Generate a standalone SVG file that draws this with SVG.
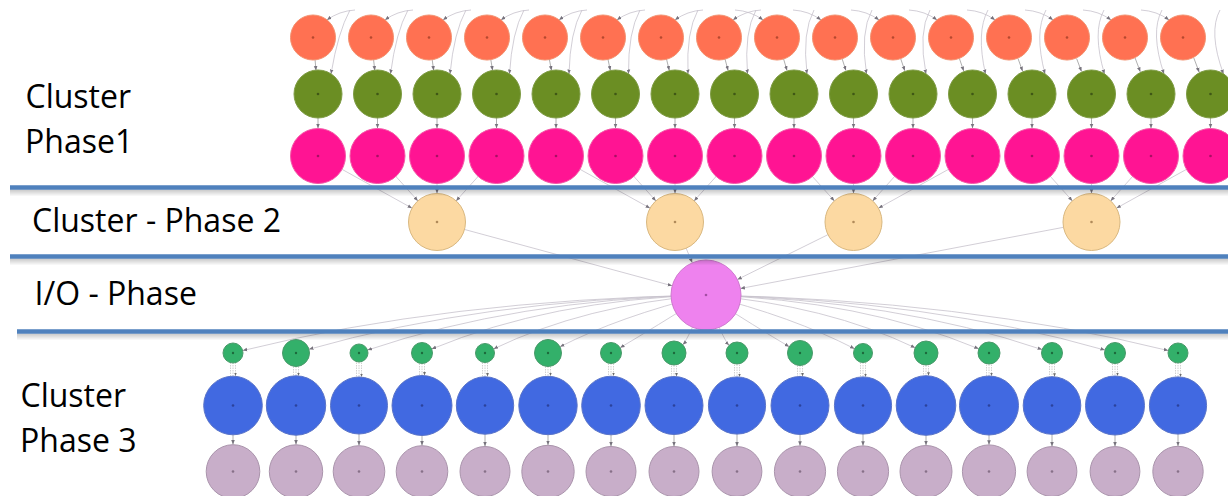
<svg xmlns="http://www.w3.org/2000/svg" width="1228" height="496" viewBox="0 0 1228 496">
<style>
.lbl{font-family:"Open Sans","Liberation Sans",sans-serif;font-size:32px;fill:#000}
.e{fill:none;stroke:#c6c2cc;stroke-width:0.8;marker-end:url(#ah)}
.es{fill:none;stroke:#9a9a9a;stroke-width:0.8;marker-end:url(#ah)}
.e3{fill:none;stroke:#bdbdbd;stroke-width:0.7;stroke-dasharray:1.5 1;marker-end:url(#as)}
.o{fill:#ff7152;stroke:#f3916f;stroke-width:1}
.g{fill:#6b8e23;stroke:#7f9c45;stroke-width:1}
.m{fill:#ff1493;stroke:#f45aa8;stroke-width:1}
.c{fill:#fcd9a2;stroke:#d9b880;stroke-width:1}
.v{fill:#ee82ee;stroke:#cf78cf;stroke-width:1}
.s{fill:#33b06a;stroke:#4a9a6a;stroke-width:1}
.b{fill:#4169e1;stroke:#5a74c8;stroke-width:1}
.l{fill:#c8aec9;stroke:#aa94ac;stroke-width:1}
.d1{fill:#b5482f}.d2{fill:#3f5716}.d3{fill:#a80f63}.d4{fill:#b08a5a}.d5{fill:#a44ea4}.d6{fill:#1d6a3d}.d7{fill:#2b429b}.d8{fill:#877088}
.sep{stroke:#4f81bd;stroke-width:4.5}
</style>
<defs>
<marker id="ah" viewBox="0 0 10 10" refX="10" refY="5" markerWidth="4.5" markerHeight="4.5" markerUnits="userSpaceOnUse" orient="auto"><path d="M0,1L10,5L0,9z" fill="#77737d"/></marker>
<marker id="as" viewBox="0 0 10 10" refX="10" refY="5" markerWidth="3.5" markerHeight="3.5" markerUnits="userSpaceOnUse" orient="auto"><path d="M0,1L10,5L0,9z" fill="#6e6e6e"/></marker>
<linearGradient id="sh" x1="0" y1="0" x2="0" y2="1"><stop offset="0" stop-color="#000" stop-opacity="0.22"/><stop offset="1" stop-color="#000" stop-opacity="0"/></linearGradient>
</defs>
<rect width="1228" height="496" fill="#fff"/>

<g id="connectors">
<path class="e" d="M355,10Q339,11 327,20"/><path class="e" d="M413,10Q397,11 385,20"/><path class="e" d="M471,10Q455,11 443,20"/><path class="e" d="M529,10Q513,11 501,20"/>
<path class="e" d="M587,10Q571,11 559,20"/><path class="e" d="M645,10Q629,11 617,20"/><path class="e" d="M703,10Q687,11 675,20"/><path class="e" d="M761,10Q745,11 733,20"/>
<path class="e" d="M735,10Q751,11 763,20"/><path class="e" d="M793,10Q809,11 821,20"/><path class="e" d="M851,10Q867,11 879,20"/><path class="e" d="M909,10Q925,11 937,20"/>
<path class="e" d="M967,10Q983,11 995,20"/><path class="e" d="M1025,10Q1041,11 1053,20"/><path class="e" d="M1083,10Q1099,11 1111,20"/><path class="e" d="M1141,10Q1157,11 1169,20"/>
<path class="e" d="M350,10Q338,32 331,74"/><path class="e" d="M408,10Q396,32 390.5,74"/><path class="e" d="M466,10Q454,32 450,74"/><path class="e" d="M524,10Q512,32 509.5,74"/>
<path class="e" d="M582,10Q570,32 569,74"/><path class="e" d="M640,10Q628,32 628.5,74"/><path class="e" d="M698,10Q686,32 688,74"/><path class="e" d="M756,10Q744,32 747.5,74"/>
<path class="e" d="M814,10Q802,32 807,74"/><path class="e" d="M872,10Q860,32 866.5,74"/><path class="e" d="M930,10Q918,32 926,74"/><path class="e" d="M988,10Q976,32 985.5,74"/>
<path class="e" d="M1046,10Q1034,32 1045,74"/><path class="e" d="M1104,10Q1092,32 1104.5,74"/><path class="e" d="M1162,10Q1150,32 1164,74"/><path class="e" d="M1220,10Q1208,32 1223.5,74"/>
<path class="es" d="M315,59L316,70.5"/><path class="es" d="M373.5,59L374.8,70.5"/><path class="es" d="M432.1,59L433.7,70.5"/><path class="es" d="M490.7,59L492.6,70.5"/>
<path class="es" d="M549.3,59L551.5,70.5"/><path class="es" d="M607.9,59L610.4,70.5"/><path class="es" d="M666.5,59L669.3,70.5"/><path class="es" d="M725,59L728.1,70.5"/>
<path class="es" d="M783.6,59L787,70.5"/><path class="es" d="M842.2,59L845.9,70.5"/><path class="es" d="M900.8,59L904.8,70.8"/><path class="es" d="M959.4,58.5L963.7,71"/>
<path class="es" d="M1018,58.5L1022.6,71.2"/><path class="es" d="M1076.6,58.5L1081.5,71.5"/><path class="es" d="M1135.1,58L1140.3,71.8"/><path class="es" d="M1193.7,57.7L1199.2,72.2"/>
<path class="es" d="M318,118L318,128.3"/><path class="es" d="M377.5,118L377.5,128.3"/><path class="es" d="M437,118L437,128.3"/><path class="es" d="M496.5,118L496.5,128.3"/>
<path class="es" d="M556,118L556,128.3"/><path class="es" d="M615.5,118L615.5,128.3"/><path class="es" d="M675,118L675,128.3"/><path class="es" d="M734.5,118L734.5,128.3"/>
<path class="es" d="M794,118L794,128.3"/><path class="es" d="M853.5,118L853.5,128.3"/><path class="es" d="M913,118L913,128.3"/><path class="es" d="M972.5,118L972.5,128.3"/>
<path class="es" d="M1032,118L1032,128.3"/><path class="es" d="M1091.5,118L1091.5,128.3"/><path class="es" d="M1151,118L1151,128.3"/><path class="es" d="M1210.5,118L1210.5,128.3"/>
<path class="e" d="M318,156L412.1,208.2"/><path class="e" d="M377.5,156L417.9,200.9"/><path class="e" d="M437,156L437,193.5"/><path class="e" d="M496.5,156L456.1,200.9"/>
<path class="e" d="M556,156L650.1,208.2"/><path class="e" d="M615.5,156L655.9,200.9"/><path class="e" d="M675,156L675,193.5"/><path class="e" d="M734.5,156L694.1,200.9"/>
<path class="e" d="M794,156L834.4,200.9"/><path class="e" d="M853.5,156L853.5,193.5"/><path class="e" d="M913,156L872.6,200.9"/><path class="e" d="M972.5,156L878.4,208.2"/>
<path class="e" d="M1032,156L1072.4,200.9"/><path class="e" d="M1091.5,156L1091.5,193.5"/><path class="e" d="M1151,156L1110.6,200.9"/><path class="e" d="M1210.5,156L1116.4,208.2"/>
<path class="e" d="M437,222L672.2,285.8"/><path class="e" d="M675,222L692.3,262.8"/><path class="e" d="M853.5,222L737.4,279.5"/><path class="e" d="M1091.5,222L740.4,288.5"/>
<path class="e" d="M706,295Q445.8,300 242.7,350.6"/><path class="e" d="M706,295Q480.5,300 309,349.3"/><path class="e" d="M706,295Q515.1,300 367.5,350.1"/><path class="e" d="M706,295Q549.8,300 431.7,349"/>
<path class="e" d="M706,295Q584.4,305.2 493.6,348.9"/><path class="e" d="M706,295Q619.1,316.6 560,346.8"/><path class="e" d="M706,295Q653.7,327.9 620.1,347.7"/><path class="e" d="M706,295Q688.4,339.2 682.7,344.7"/>
<path class="e" d="M706,295Q723,339.4 729.1,345.3"/><path class="e" d="M706,295Q757.7,328.1 789.2,346.7"/><path class="e" d="M706,295Q792.4,316.7 854.5,348.7"/><path class="e" d="M706,295Q827,305.4 915.2,347.8"/>
<path class="e" d="M706,295Q861.7,300 978.8,348.8"/><path class="e" d="M706,295Q896.3,300 1042.1,349.6"/><path class="e" d="M706,295Q931,300 1104.9,350.1"/><path class="e" d="M706,295Q965.6,300 1168.3,350.6"/>
<g id="multi-edges">
<path class="e3" d="M230.5,360V376M233,360V376M235.5,360V376"/>
<path class="e3" d="M293.5,364V376M296,364V376M298.5,364V376"/>
<path class="e3" d="M356.5,360V377M359,360V377M361.5,360V377"/>
<path class="e3" d="M419.5,361V375.5M422,361V375.5M424.5,361V375.5"/>
<path class="e3" d="M482.5,360V376.5M485,360V376.5M487.5,360V376.5"/>
<path class="e3" d="M545.5,364V376M548,364V376M550.5,364V376"/>
<path class="e3" d="M608.5,361V376M611,361V376M613.5,361V376"/>
<path class="e3" d="M671.5,363V376.5M674,363V376.5M676.5,363V376.5"/>
<path class="e3" d="M734.5,362V377M737,362V377M739.5,362V377"/>
<path class="e3" d="M797.5,363V376.5M800,363V376.5M802.5,363V376.5"/>
<path class="e3" d="M860.5,360V377M863,360V377M865.5,360V377"/>
<path class="e3" d="M923.5,363V375.7M926,363V375.7M928.5,363V375.7"/>
<path class="e3" d="M986.5,362V376M989,362V376M991.5,362V376"/>
<path class="e3" d="M1049.5,361V376.7M1052,361V376.7M1054.5,361V376.7"/>
<path class="e3" d="M1112.5,361V376M1115,361V376M1117.5,361V376"/>
<path class="e3" d="M1175.5,360V377M1178,360V377M1180.5,360V377"/>
</g>
<path class="es" d="M233,434V444.5"/><path class="es" d="M296,434V444.6"/><path class="es" d="M359,434V445.5"/><path class="es" d="M422,434V445.5"/>
<path class="es" d="M485,434V446.3"/><path class="es" d="M548,434V445.1"/><path class="es" d="M611,434V446.3"/><path class="es" d="M674,434V446.3"/>
<path class="es" d="M737,434V446.4"/><path class="es" d="M800,434V445.7"/><path class="es" d="M863,434V445.7"/><path class="es" d="M926,434V445.3"/>
<path class="es" d="M989,434V444.7"/><path class="es" d="M1052,434V446.4"/><path class="es" d="M1115,434V446.4"/><path class="es" d="M1178,434V446.1"/>
</g>

<g id="phase1-orange">
<g id="o0"><circle class="o" cx="313" cy="37.5" r="22.5"/><circle class="d1" cx="313" cy="37.5" r="1.3"/></g>
<g id="o1"><circle class="o" cx="371" cy="37.5" r="22.5"/><circle class="d1" cx="371" cy="37.5" r="1.3"/></g>
<g id="o2"><circle class="o" cx="429" cy="37.5" r="22.5"/><circle class="d1" cx="429" cy="37.5" r="1.3"/></g>
<g id="o3"><circle class="o" cx="487" cy="37.5" r="22.5"/><circle class="d1" cx="487" cy="37.5" r="1.3"/></g>
<g id="o4"><circle class="o" cx="545" cy="37.5" r="22.5"/><circle class="d1" cx="545" cy="37.5" r="1.3"/></g>
<g id="o5"><circle class="o" cx="603" cy="37.5" r="22.5"/><circle class="d1" cx="603" cy="37.5" r="1.3"/></g>
<g id="o6"><circle class="o" cx="661" cy="37.5" r="22.5"/><circle class="d1" cx="661" cy="37.5" r="1.3"/></g>
<g id="o7"><circle class="o" cx="719" cy="37.5" r="22.5"/><circle class="d1" cx="719" cy="37.5" r="1.3"/></g>
<g id="o8"><circle class="o" cx="777" cy="37.5" r="22.5"/><circle class="d1" cx="777" cy="37.5" r="1.3"/></g>
<g id="o9"><circle class="o" cx="835" cy="37.5" r="22.5"/><circle class="d1" cx="835" cy="37.5" r="1.3"/></g>
<g id="o10"><circle class="o" cx="893" cy="37.5" r="22.5"/><circle class="d1" cx="893" cy="37.5" r="1.3"/></g>
<g id="o11"><circle class="o" cx="951" cy="37.5" r="22.5"/><circle class="d1" cx="951" cy="37.5" r="1.3"/></g>
<g id="o12"><circle class="o" cx="1009" cy="37.5" r="22.5"/><circle class="d1" cx="1009" cy="37.5" r="1.3"/></g>
<g id="o13"><circle class="o" cx="1067" cy="37.5" r="22.5"/><circle class="d1" cx="1067" cy="37.5" r="1.3"/></g>
<g id="o14"><circle class="o" cx="1125" cy="37.5" r="22.5"/><circle class="d1" cx="1125" cy="37.5" r="1.3"/></g>
<g id="o15"><circle class="o" cx="1183" cy="37.5" r="22.5"/><circle class="d1" cx="1183" cy="37.5" r="1.3"/></g>
</g>
<g id="phase1-olive">
<g id="g0"><circle class="g" cx="318" cy="94" r="24"/><circle class="d2" cx="318" cy="94" r="1.3"/></g>
<g id="g1"><circle class="g" cx="377.5" cy="94" r="24"/><circle class="d2" cx="377.5" cy="94" r="1.3"/></g>
<g id="g2"><circle class="g" cx="437" cy="94" r="24"/><circle class="d2" cx="437" cy="94" r="1.3"/></g>
<g id="g3"><circle class="g" cx="496.5" cy="94" r="24"/><circle class="d2" cx="496.5" cy="94" r="1.3"/></g>
<g id="g4"><circle class="g" cx="556" cy="94" r="24"/><circle class="d2" cx="556" cy="94" r="1.3"/></g>
<g id="g5"><circle class="g" cx="615.5" cy="94" r="24"/><circle class="d2" cx="615.5" cy="94" r="1.3"/></g>
<g id="g6"><circle class="g" cx="675" cy="94" r="24"/><circle class="d2" cx="675" cy="94" r="1.3"/></g>
<g id="g7"><circle class="g" cx="734.5" cy="94" r="24"/><circle class="d2" cx="734.5" cy="94" r="1.3"/></g>
<g id="g8"><circle class="g" cx="794" cy="94" r="24"/><circle class="d2" cx="794" cy="94" r="1.3"/></g>
<g id="g9"><circle class="g" cx="853.5" cy="94" r="24"/><circle class="d2" cx="853.5" cy="94" r="1.3"/></g>
<g id="g10"><circle class="g" cx="913" cy="94" r="24"/><circle class="d2" cx="913" cy="94" r="1.3"/></g>
<g id="g11"><circle class="g" cx="972.5" cy="94" r="24"/><circle class="d2" cx="972.5" cy="94" r="1.3"/></g>
<g id="g12"><circle class="g" cx="1032" cy="94" r="24"/><circle class="d2" cx="1032" cy="94" r="1.3"/></g>
<g id="g13"><circle class="g" cx="1091.5" cy="94" r="24"/><circle class="d2" cx="1091.5" cy="94" r="1.3"/></g>
<g id="g14"><circle class="g" cx="1151" cy="94" r="24"/><circle class="d2" cx="1151" cy="94" r="1.3"/></g>
<g id="g15"><circle class="g" cx="1210.5" cy="94" r="24"/><circle class="d2" cx="1210.5" cy="94" r="1.3"/></g>
</g>
<g id="phase1-pink">
<g id="m0"><circle class="m" cx="318" cy="156" r="27.5"/><circle class="d3" cx="318" cy="156" r="1.3"/></g>
<g id="m1"><circle class="m" cx="377.5" cy="156" r="27.5"/><circle class="d3" cx="377.5" cy="156" r="1.3"/></g>
<g id="m2"><circle class="m" cx="437" cy="156" r="27.5"/><circle class="d3" cx="437" cy="156" r="1.3"/></g>
<g id="m3"><circle class="m" cx="496.5" cy="156" r="27.5"/><circle class="d3" cx="496.5" cy="156" r="1.3"/></g>
<g id="m4"><circle class="m" cx="556" cy="156" r="27.5"/><circle class="d3" cx="556" cy="156" r="1.3"/></g>
<g id="m5"><circle class="m" cx="615.5" cy="156" r="27.5"/><circle class="d3" cx="615.5" cy="156" r="1.3"/></g>
<g id="m6"><circle class="m" cx="675" cy="156" r="27.5"/><circle class="d3" cx="675" cy="156" r="1.3"/></g>
<g id="m7"><circle class="m" cx="734.5" cy="156" r="27.5"/><circle class="d3" cx="734.5" cy="156" r="1.3"/></g>
<g id="m8"><circle class="m" cx="794" cy="156" r="27.5"/><circle class="d3" cx="794" cy="156" r="1.3"/></g>
<g id="m9"><circle class="m" cx="853.5" cy="156" r="27.5"/><circle class="d3" cx="853.5" cy="156" r="1.3"/></g>
<g id="m10"><circle class="m" cx="913" cy="156" r="27.5"/><circle class="d3" cx="913" cy="156" r="1.3"/></g>
<g id="m11"><circle class="m" cx="972.5" cy="156" r="27.5"/><circle class="d3" cx="972.5" cy="156" r="1.3"/></g>
<g id="m12"><circle class="m" cx="1032" cy="156" r="27.5"/><circle class="d3" cx="1032" cy="156" r="1.3"/></g>
<g id="m13"><circle class="m" cx="1091.5" cy="156" r="27.5"/><circle class="d3" cx="1091.5" cy="156" r="1.3"/></g>
<g id="m14"><circle class="m" cx="1151" cy="156" r="27.5"/><circle class="d3" cx="1151" cy="156" r="1.3"/></g>
<g id="m15"><circle class="m" cx="1210.5" cy="156" r="27.5"/><circle class="d3" cx="1210.5" cy="156" r="1.3"/></g>
</g>
<g id="phase2">
<g id="c0"><circle class="c" cx="437" cy="222" r="28.5"/><circle class="d4" cx="437" cy="222" r="1.3"/></g>
<g id="c1"><circle class="c" cx="675" cy="222" r="28.5"/><circle class="d4" cx="675" cy="222" r="1.3"/></g>
<g id="c2"><circle class="c" cx="853.5" cy="222" r="28.5"/><circle class="d4" cx="853.5" cy="222" r="1.3"/></g>
<g id="c3"><circle class="c" cx="1091.5" cy="222" r="28.5"/><circle class="d4" cx="1091.5" cy="222" r="1.3"/></g>
</g>
<g id="io"><circle class="v" cx="706" cy="295" r="35"/><circle class="d5" cx="706" cy="295" r="1.3"/></g>
<g id="phase3-green">
<g id="s0"><circle class="s" cx="233" cy="353" r="10"/><circle class="d6" cx="233" cy="353" r="1.2"/></g>
<g id="s1"><circle class="s" cx="296" cy="353" r="13.5"/><circle class="d6" cx="296" cy="353" r="1.2"/></g>
<g id="s2"><circle class="s" cx="359" cy="353" r="9"/><circle class="d6" cx="359" cy="353" r="1.2"/></g>
<g id="s3"><circle class="s" cx="422" cy="353" r="10.5"/><circle class="d6" cx="422" cy="353" r="1.2"/></g>
<g id="s4"><circle class="s" cx="485" cy="353" r="9.5"/><circle class="d6" cx="485" cy="353" r="1.2"/></g>
<g id="s5"><circle class="s" cx="548" cy="353" r="13.5"/><circle class="d6" cx="548" cy="353" r="1.2"/></g>
<g id="s6"><circle class="s" cx="611" cy="353" r="10.5"/><circle class="d6" cx="611" cy="353" r="1.2"/></g>
<g id="s7"><circle class="s" cx="674" cy="353" r="12"/><circle class="d6" cx="674" cy="353" r="1.2"/></g>
<g id="s8"><circle class="s" cx="737" cy="353" r="11"/><circle class="d6" cx="737" cy="353" r="1.2"/></g>
<g id="s9"><circle class="s" cx="800" cy="353" r="12.5"/><circle class="d6" cx="800" cy="353" r="1.2"/></g>
<g id="s10"><circle class="s" cx="863" cy="353" r="9.5"/><circle class="d6" cx="863" cy="353" r="1.2"/></g>
<g id="s11"><circle class="s" cx="926" cy="353" r="12"/><circle class="d6" cx="926" cy="353" r="1.2"/></g>
<g id="s12"><circle class="s" cx="989" cy="353" r="11"/><circle class="d6" cx="989" cy="353" r="1.2"/></g>
<g id="s13"><circle class="s" cx="1052" cy="353" r="10.5"/><circle class="d6" cx="1052" cy="353" r="1.2"/></g>
<g id="s14"><circle class="s" cx="1115" cy="353" r="10.5"/><circle class="d6" cx="1115" cy="353" r="1.2"/></g>
<g id="s15"><circle class="s" cx="1178" cy="353" r="10"/><circle class="d6" cx="1178" cy="353" r="1.2"/></g>
</g>
<g id="phase3-blue">
<g id="b0"><circle class="b" cx="233" cy="405.5" r="29.3"/><circle class="d7" cx="233" cy="405.5" r="1.3"/></g>
<g id="b1"><circle class="b" cx="296" cy="405.5" r="29.7"/><circle class="d7" cx="296" cy="405.5" r="1.3"/></g>
<g id="b2"><circle class="b" cx="359" cy="405.5" r="28.5"/><circle class="d7" cx="359" cy="405.5" r="1.3"/></g>
<g id="b3"><circle class="b" cx="422" cy="405.5" r="30"/><circle class="d7" cx="422" cy="405.5" r="1.3"/></g>
<g id="b4"><circle class="b" cx="485" cy="405.5" r="28.7"/><circle class="d7" cx="485" cy="405.5" r="1.3"/></g>
<g id="b5"><circle class="b" cx="548" cy="405.5" r="29.2"/><circle class="d7" cx="548" cy="405.5" r="1.3"/></g>
<g id="b6"><circle class="b" cx="611" cy="405.5" r="29.3"/><circle class="d7" cx="611" cy="405.5" r="1.3"/></g>
<g id="b7"><circle class="b" cx="674" cy="405.5" r="29"/><circle class="d7" cx="674" cy="405.5" r="1.3"/></g>
<g id="b8"><circle class="b" cx="737" cy="405.5" r="28.6"/><circle class="d7" cx="737" cy="405.5" r="1.3"/></g>
<g id="b9"><circle class="b" cx="800" cy="405.5" r="29"/><circle class="d7" cx="800" cy="405.5" r="1.3"/></g>
<g id="b10"><circle class="b" cx="863" cy="405.5" r="28.6"/><circle class="d7" cx="863" cy="405.5" r="1.3"/></g>
<g id="b11"><circle class="b" cx="926" cy="405.5" r="29.8"/><circle class="d7" cx="926" cy="405.5" r="1.3"/></g>
<g id="b12"><circle class="b" cx="989" cy="405.5" r="29.5"/><circle class="d7" cx="989" cy="405.5" r="1.3"/></g>
<g id="b13"><circle class="b" cx="1052" cy="405.5" r="28.8"/><circle class="d7" cx="1052" cy="405.5" r="1.3"/></g>
<g id="b14"><circle class="b" cx="1115" cy="405.5" r="29.5"/><circle class="d7" cx="1115" cy="405.5" r="1.3"/></g>
<g id="b15"><circle class="b" cx="1178" cy="405.5" r="28.6"/><circle class="d7" cx="1178" cy="405.5" r="1.3"/></g>
</g>
<g id="phase3-lilac">
<g id="l0"><circle class="l" cx="233" cy="471.5" r="26.8"/><circle class="d8" cx="233" cy="471.5" r="1.3"/></g>
<g id="l1"><circle class="l" cx="296" cy="471.5" r="26.7"/><circle class="d8" cx="296" cy="471.5" r="1.3"/></g>
<g id="l2"><circle class="l" cx="359" cy="471.5" r="25.8"/><circle class="d8" cx="359" cy="471.5" r="1.3"/></g>
<g id="l3"><circle class="l" cx="422" cy="471.5" r="25.8"/><circle class="d8" cx="422" cy="471.5" r="1.3"/></g>
<g id="l4"><circle class="l" cx="485" cy="471.5" r="25"/><circle class="d8" cx="485" cy="471.5" r="1.3"/></g>
<g id="l5"><circle class="l" cx="548" cy="471.5" r="26.2"/><circle class="d8" cx="548" cy="471.5" r="1.3"/></g>
<g id="l6"><circle class="l" cx="611" cy="471.5" r="25"/><circle class="d8" cx="611" cy="471.5" r="1.3"/></g>
<g id="l7"><circle class="l" cx="674" cy="471.5" r="25"/><circle class="d8" cx="674" cy="471.5" r="1.3"/></g>
<g id="l8"><circle class="l" cx="737" cy="471.5" r="24.9"/><circle class="d8" cx="737" cy="471.5" r="1.3"/></g>
<g id="l9"><circle class="l" cx="800" cy="471.5" r="25.6"/><circle class="d8" cx="800" cy="471.5" r="1.3"/></g>
<g id="l10"><circle class="l" cx="863" cy="471.5" r="25.6"/><circle class="d8" cx="863" cy="471.5" r="1.3"/></g>
<g id="l11"><circle class="l" cx="926" cy="471.5" r="26"/><circle class="d8" cx="926" cy="471.5" r="1.3"/></g>
<g id="l12"><circle class="l" cx="989" cy="471.5" r="26.6"/><circle class="d8" cx="989" cy="471.5" r="1.3"/></g>
<g id="l13"><circle class="l" cx="1052" cy="471.5" r="24.9"/><circle class="d8" cx="1052" cy="471.5" r="1.3"/></g>
<g id="l14"><circle class="l" cx="1115" cy="471.5" r="24.9"/><circle class="d8" cx="1115" cy="471.5" r="1.3"/></g>
<g id="l15"><circle class="l" cx="1178" cy="471.5" r="25.2"/><circle class="d8" cx="1178" cy="471.5" r="1.3"/></g>
</g>

<g id="separators">
<rect x="10" y="189.5" width="1218" height="7" fill="url(#sh)"/>
<rect x="10" y="258.5" width="1218" height="7" fill="url(#sh)"/>
<rect x="17" y="333.5" width="1211" height="7" fill="url(#sh)"/>
<line class="sep" x1="10" y1="187.5" x2="1228" y2="187.5"/>
<line class="sep" x1="10" y1="256.5" x2="1228" y2="256.5"/>
<line class="sep" x1="17" y1="331.5" x2="1228" y2="331.5"/>
</g>

<g id="labels">
<text class="lbl" x="25.5" y="108">Cluster</text>
<text class="lbl" x="25" y="153">Phase1</text>
<text class="lbl" x="32" y="231.5">Cluster - Phase 2</text>
<text class="lbl" x="34.5" y="305">I/O - Phase</text>
<text class="lbl" x="20.5" y="407">Cluster</text>
<text class="lbl" x="20" y="452">Phase 3</text>
</g>
</svg>
